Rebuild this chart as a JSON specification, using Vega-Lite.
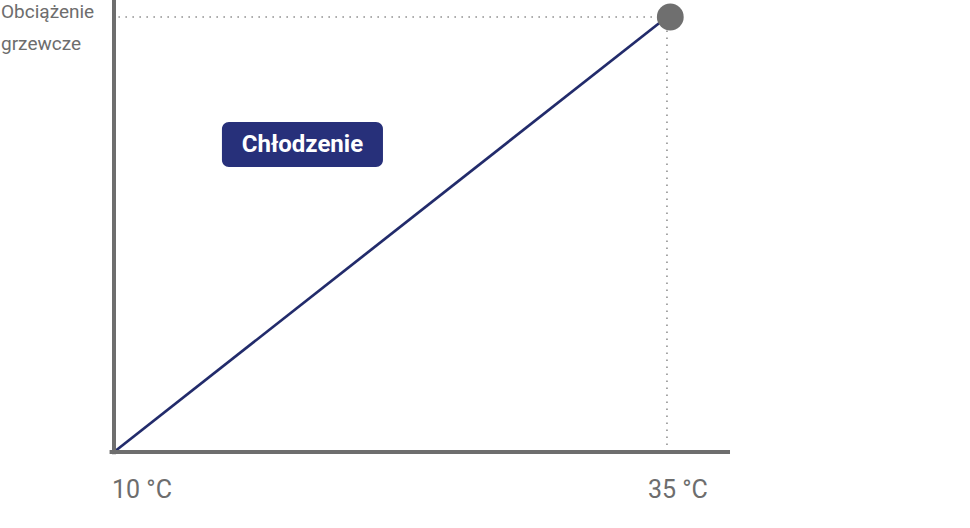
{
  "$schema": "https://vega.github.io/schema/vega-lite/v6.json",
  "width": 970,
  "height": 528,
  "autosize": "none",
  "padding": 0,
  "background": "white",
  "config": {"view": {"stroke": null}},
  "datasets": {
    "line": [{"t": 10, "q": 0}, {"t": 35, "q": 1}],
    "peak": [{"t": 35.15, "q": 1}],
    "xaxis": [{"t": 9.8, "t2": 37.85, "q": 0}],
    "yaxis": [{"t": 10, "q": -0.005, "q2": 1.04}],
    "hguide": [{"t": 10.2, "t2": 35, "q": 1}],
    "vguide": [{"t": 35, "q": 0, "q2": 1}],
    "ticks": [{"t": 10, "q": 0, "label": "10 °C"}, {"t": 35, "q": 0, "label": "35 °C"}],
    "ytitle": [{"t": 10, "q": 1.04, "label": ["Obciążenie", "grzewcze"]}],
    "tag": [{"t": 14.88, "t2": 22.16, "q": 0.7586, "q2": 0.655, "label": "Chłodzenie"}]
  },
  "encoding": {
    "x": {"field": "t", "type": "quantitative", "axis": null, "scale": {"domain": [4.846, 48.7], "nice": false, "zero": false}},
    "y": {"field": "q", "type": "quantitative", "axis": null, "scale": {"domain": [-0.1747, 1.0391], "nice": false, "zero": false}}
  },
  "layer": [
    {
      "data": {"name": "hguide"},
      "mark": {"type": "rule", "color": "#8a8a8a", "strokeWidth": 1.5, "strokeDash": [1.5, 5.5]},
      "encoding": {"x2": {"field": "t2"}}
    },
    {
      "data": {"name": "vguide"},
      "mark": {"type": "rule", "color": "#8a8a8a", "strokeWidth": 1.5, "strokeDash": [1.5, 5.5]},
      "encoding": {"y2": {"field": "q2"}}
    },
    {
      "data": {"name": "line"},
      "mark": {"type": "line", "color": "#222b6b", "strokeWidth": 2.7},
      "encoding": {}
    },
    {
      "data": {"name": "peak"},
      "mark": {"type": "point", "filled": true, "shape": "circle", "color": "#6f6f6f", "opacity": 1, "size": 720},
      "encoding": {}
    },
    {
      "data": {"name": "xaxis"},
      "mark": {"type": "rule", "color": "#6e6e6e", "strokeWidth": 4},
      "encoding": {"x2": {"field": "t2"}}
    },
    {
      "data": {"name": "yaxis"},
      "mark": {"type": "rule", "color": "#6e6e6e", "strokeWidth": 4},
      "encoding": {"y2": {"field": "q2"}}
    },
    {
      "data": {"name": "ticks"},
      "transform": [{"filter": "datum.t == 10"}],
      "mark": {"type": "text", "align": "left", "baseline": "alphabetic", "dx": -2, "dy": 46, "font": "Roboto", "fontSize": 25, "color": "#6d6d6d"},
      "encoding": {"text": {"field": "label"}}
    },
    {
      "data": {"name": "ticks"},
      "transform": [{"filter": "datum.t == 35"}],
      "mark": {"type": "text", "align": "left", "baseline": "alphabetic", "dx": -19, "dy": 46, "font": "Roboto", "fontSize": 25, "color": "#6d6d6d"},
      "encoding": {"text": {"field": "label"}}
    },
    {
      "data": {"name": "ytitle"},
      "mark": {"type": "text", "align": "left", "baseline": "top", "dx": -113, "dy": 3, "lineHeight": 32, "font": "Roboto", "fontSize": 19, "color": "#6d6d6d"},
      "encoding": {"text": {"field": "label"}}
    },
    {
      "data": {"name": "tag"},
      "mark": {"type": "rect", "color": "#27307a", "cornerRadius": 7},
      "encoding": {"x2": {"field": "t2"}, "y2": {"field": "q2"}}
    },
    {
      "data": {"name": "tag"},
      "mark": {"type": "text", "align": "center", "baseline": "middle", "font": "Roboto", "fontWeight": "bold", "fontSize": 24, "color": "white"},
      "encoding": {
        "x": {"datum": 18.52, "type": "quantitative"},
        "y": {"datum": 0.706, "type": "quantitative"},
        "text": {"field": "label"}
      }
    }
  ]
}
